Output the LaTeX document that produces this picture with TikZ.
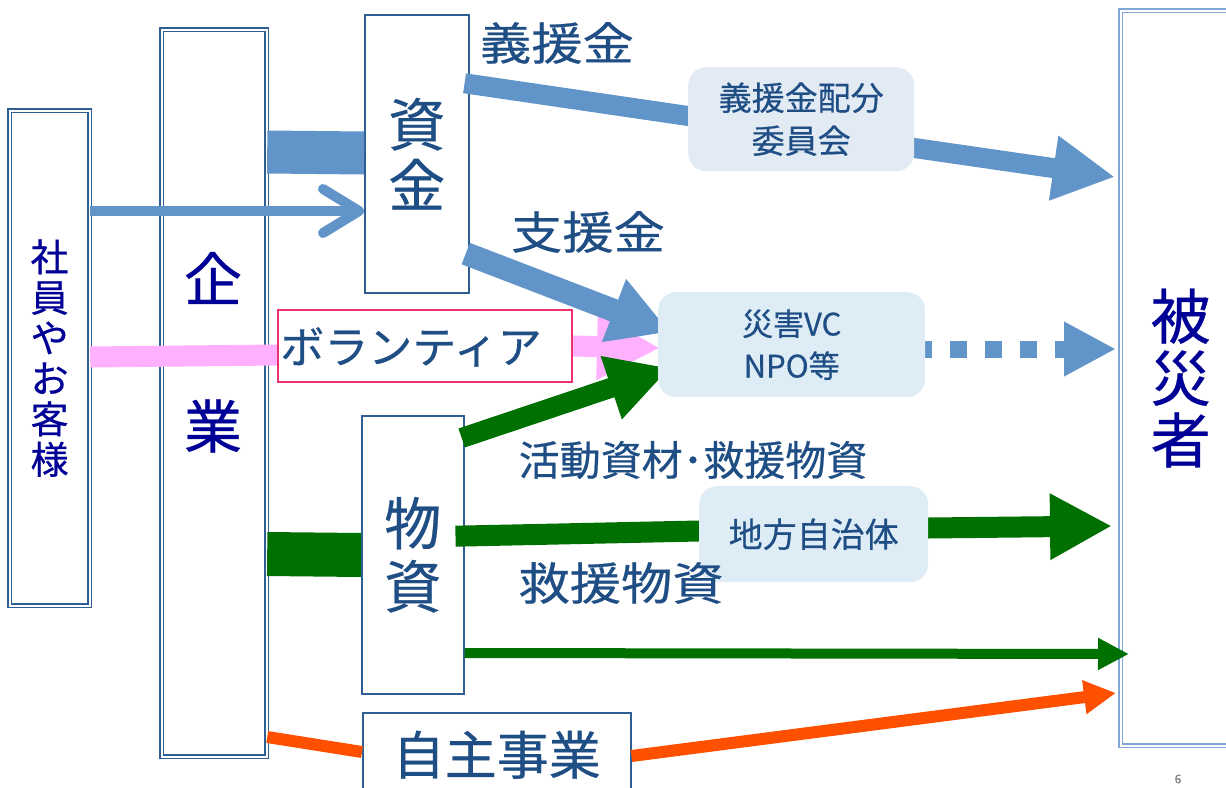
\documentclass[tikz,border=0pt]{standalone}
\usepackage{fontspec}
\setmainfont{Noto Sans CJK JP}[FakeBold=0.5]
\newfontfamily\jpw{Noto Sans CJK JP}[FakeStretch=1.14,FakeBold=0.5]
\usetikzlibrary{arrows.meta}
\pgfdeclarelayer{boxlayer}
\pgfdeclarelayer{arrowlayer}
\pgfsetlayers{boxlayer,arrowlayer,main}
\definecolor{abl}{HTML}{6195C9}
\definecolor{agr}{HTML}{007000}
\definecolor{apk}{HTML}{FFB0FF}
\definecolor{aor}{HTML}{FF5000}
\definecolor{boxline}{HTML}{2E5F92}
\definecolor{navytxt}{HTML}{000096}
\definecolor{dtxt}{HTML}{1F4E85}
\definecolor{fillA}{HTML}{E2EAF4}
\definecolor{fillB}{HTML}{DEECF6}
\definecolor{volborder}{RGB}{235,50,110}
\definecolor{hisailine}{HTML}{7EA6D6}
\newcommand{\fs}[2]{\fontsize{#1}{#2}\selectfont}
\begin{document}
\begin{tikzpicture}[x=1pt,y=-1pt,
  dbox/.style={draw=boxline, double=white, double distance=2pt, line width=1.2pt, fill=white,
    inner sep=0pt, anchor=north west, align=center},
  sbox/.style={draw=boxline, line width=1.5pt, fill=white, inner sep=0pt, anchor=north west, align=center, text=dtxt},
  rbox/.style={fill=#1, rounded corners=18pt, inner sep=0pt, anchor=north west, align=center, text=dtxt},
  lbl/.style={text=dtxt, inner sep=0pt}
]
\useasboundingbox (0,0) rectangle (1226,787);
\clip (0,0) rectangle (1226,787);

\begin{pgfonlayer}{boxlayer}
\node[dbox, minimum width=80pt, minimum height=495pt, text=navytxt, font=\fs{38}{40.5}] (shain) at (9,110) {社\\員\\や\\お\\客\\様};
\node[dbox, minimum width=105pt, minimum height=727pt] (kigyo) at (161,29) {};
\node[text=navytxt, font=\fs{58}{58}, inner sep=0pt] (kigyoA) at (213,278) {企};
\node[text=navytxt, font=\fs{58}{58}, inner sep=0pt] (kigyoB) at (213,426) {業};
\node[sbox, minimum width=104pt, minimum height=278pt, font=\fs{57}{61}] (shikin) at (364,14) {資\\金};
\node[sbox, minimum width=102pt, minimum height=278pt, font=\fs{57}{63}] (shizai) at (361,415) {物\\資};
\node[sbox, minimum width=268pt, minimum height=84pt, font=\fs{52}{52}] (jishu) at (362,712) {自主事業};
\node[dbox, draw=hisailine, minimum width=120pt, minimum height=735pt, text=navytxt, font=\fs{60}{62}] (hisai) at (1120,10) {被\\災\\者};
\end{pgfonlayer}

\node[draw=volborder, line width=1.6pt, fill=white, inner sep=0pt, anchor=north west, minimum width=294pt, minimum height=72pt] (volun) at (277,309) {};
\node[lbl, font=\fs{44}{44}] (volunT) at (411,347) {ボランティア};

\node[rbox=fillA, minimum width=226pt, minimum height=104pt, font=\fs{33}{43}] (giin) at (688,67) {義援金配分\\委員会};
\node[rbox=fillB, minimum width=267pt, minimum height=105pt, font=\fs{31}{42}] (vc) at (658,292) {災害VC\\NPO等};
\node[rbox=fillB, minimum width=229pt, minimum height=96pt, font=\fs{34}{34}] (chiho) at (699,486) {地方自治体};

\node[lbl, font=\jpw\fs{45}{45}] (lgien) at (557,43) {義援金};
\node[lbl, font=\jpw\fs{45}{45}] (lshien) at (588,232) {支援金};
\node[lbl, font=\fs{41}{41}] (lkatsu) at (693,460) {活動資材･救援物資};
\node[lbl, font=\jpw\fs{45}{45}] (lkyuen) at (621,583) {救援物資};
\node[text=gray, font=\fs{12}{12}, inner sep=0pt] (pg) at (1178,779) {6};

\coordinate (tipP) at (660,348);
\coordinate (tipG) at (1115,177);
\coordinate (tipS) at (670,332);
\coordinate (tipV) at (670,368);
\coordinate (tipD) at (1116,349);
\coordinate (tipC) at (1112,526);
\coordinate (tipT) at (1129,654);
\coordinate (tipO) at (1116,693);

\begin{pgfonlayer}{arrowlayer}
\draw[abl, line width=43pt] (kigyo.east |- 0,152) -- (shikin.west |- 0,153);
\draw[abl, line width=10pt, -{Straight Barb[length=36pt,width=44pt,round]}] (shain.east |- 0,211) -- (shikin.west |- 0,211);
\draw[apk, line width=21pt] (shain.east |- 0,357) -- (volun.west |- 0,355);
\draw[apk, line width=21pt, -{Triangle[length=63pt,width=62pt]}] (volun.east |- 0,346) -- (tipP);
\draw[abl, line width=20pt, shorten <=-5pt, shorten >=-6pt] (shikin.east |- 0,84) -- (giin.west |- 0,116);
\draw[abl, line width=20pt, shorten <=-6pt, -{Triangle[length=62pt,width=61pt]}] (giin.east |- 0,148) -- (tipG);
\draw[abl, line width=23pt, shorten <=-4pt, -{Triangle[length=60pt,width=63pt]}] (shikin.east |- 0,255) -- (tipS);
\draw[agr, line width=20pt, shorten <=-3pt, -{Triangle[length=62pt,width=62pt]}] (shizai.east |- 0,437) -- (tipV);
\draw[abl, line width=17pt, dash pattern=on 17pt off 18pt, dash phase=10pt, -{Triangle[length=52pt,width=51pt]}] (vc.east |- 0,349) -- (tipD);
\draw[agr, line width=44pt] (kigyo.east |- 0,554) -- (shizai.west |- 0,555);
\draw[agr, line width=21pt, shorten <=-9pt, shorten >=-5pt] (shizai.east |- 0,536) -- (chiho.west |- 0,531);
\draw[agr, line width=21pt, shorten <=-5pt, -{Triangle[length=62pt,width=62pt]}] (chiho.east |- 0,528) -- (tipC);
\draw[agr, line width=10pt, -{Triangle[length=31pt,width=30pt]}] (shizai.east |- 0,653) -- (tipT);
\draw[aor, line width=12pt] (kigyo.east |- 0,737) -- (jishu.west |- 0,752);
\draw[aor, line width=12pt, -{Triangle[length=32pt,width=32pt]}] (jishu.east |- 0,756) -- (tipO);
\end{pgfonlayer}
\end{tikzpicture}
\end{document}
